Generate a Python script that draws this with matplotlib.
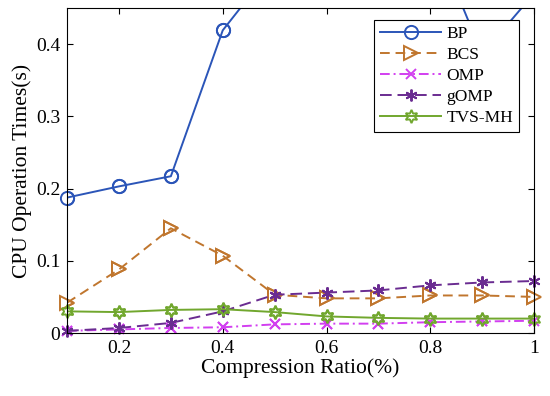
import numpy as np
import matplotlib
matplotlib.use('Agg')
import matplotlib.pyplot as plt

plt.rcParams['font.family'] = ['Liberation Serif', 'DejaVu Serif']

ratio = [0.1, 0.2, 0.3, 0.4, 0.5, 0.6, 0.7, 0.8, 0.9, 1.0]
bp = [0.1875, 0.203, 0.217, 0.419, 0.51, 0.53, 0.55, 0.56, 0.386, 0.47]
bcs = [0.042, 0.088, 0.145, 0.107, 0.053, 0.048, 0.048, 0.052, 0.052, 0.050]
omp = [0.003, 0.005, 0.007, 0.008, 0.012, 0.013, 0.013, 0.015, 0.016, 0.017]
gomp = [0.003, 0.007, 0.014, 0.030, 0.053, 0.056, 0.059, 0.066, 0.070, 0.072]
tvs = [0.030, 0.029, 0.032, 0.033, 0.029, 0.023, 0.021, 0.020, 0.020, 0.020]

series = [
    ('BP', bp, '#2b55b8', '-', 'o', 9.5),
    ('BCS', bcs, '#c0762e', (0, (5, 3)), '>', 9.5),
    ('OMP', omp, '#d23ff0', (0, (5, 2, 1, 2)), 'x', 6.5),
    ('gOMP', gomp, '#6a2c91', (0, (6, 3)), (6, 2, 0), 8.5),
    ('TVS-MH', tvs, '#71a72e', '-', (6, 1, 0), 9.5),
]

YMAX = 0.45

fig = plt.figure(figsize=(5.5, 3.96), dpi=100)
ax = fig.add_axes([0.122, 0.159, 0.849, 0.821])

for name, vals, col, ls, mk, ms in series:
    vals = np.array(vals)
    ax.plot(ratio, vals, color=col, linestyle=ls, lw=1.4, label=name,
            marker=mk, ms=ms, mfc='none', mew=1.4)
    # markers on the left edge are not clipped in the original
    inside = vals <= YMAX
    ax.plot(np.array(ratio)[inside], vals[inside], linestyle='none',
            marker=mk, ms=ms, mfc='none', mec=col, mew=1.4, clip_on=False)

ax.set_xlim(0.1, 1.0)
ax.set_ylim(0, YMAX)
ax.set_xticks([0.2, 0.4, 0.6, 0.8, 1.0])
ax.set_xticklabels(['0.2', '0.4', '0.6', '0.8', '1'])
ax.set_yticks([0, 0.1, 0.2, 0.3, 0.4])
ax.set_yticklabels(['0', '0.1', '0.2', '0.3', '0.4'])
ax.tick_params(direction='in', top=True, right=True, labelsize=14,
               length=4, width=0.8, pad=5)
for sp in ax.spines.values():
    sp.set_linewidth(0.8)

ax.set_xlabel('Compression Ratio(%)', fontsize=15.5, labelpad=1)
ax.set_ylabel('CPU Operation Times(s)', fontsize=15.5, labelpad=3)

leg = ax.legend(loc='upper right', bbox_to_anchor=(0.968, 0.963), fontsize=12.5,
                fancybox=False, framealpha=1, edgecolor='black',
                handlelength=3.5, borderpad=0.35, labelspacing=0.28,
                handletextpad=0.3, borderaxespad=0)
leg.get_frame().set_linewidth(0.8)
leg.set_zorder(10)

fig.savefig('out.png', dpi=100)
